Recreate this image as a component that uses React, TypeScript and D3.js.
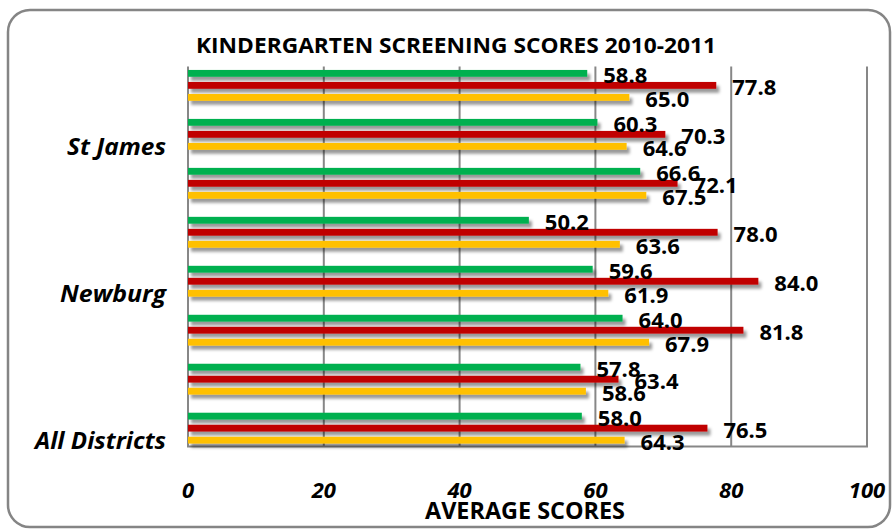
import { useEffect, useRef } from "react";
import * as d3 from "d3";

const W = 894;
const H = 529;

const groups = ["g1", "g2", "g3", "g4", "g5", "g6", "g7", "g8"];
const groupLabels = ["", "St James", "", "", "Newburg", "", "", "All Districts"];
const seriesKeys = ["green", "red", "yellow"];
const seriesColors = ["#00B050", "#C00000", "#FFC000"];
const greenValues = [58.8, 60.3, 66.6, 50.2, 59.6, 64.0, 57.8, 58.0];
const redValues = [77.8, 70.3, 72.1, 78.0, 84.0, 81.8, 63.4, 76.5];
const yellowValues = [65.0, 64.6, 67.5, 63.6, 61.9, 67.9, 58.6, 64.3];
const xTicks = [0, 20, 40, 60, 80, 100];
const labelWidths: Record<string, number> = {
  "St James": 99,
  Newburg: 106,
  "All Districts": 131,
};

const FONT = "'Open Sans', 'Liberation Sans', sans-serif";

export default function App() {
  const svgRef = useRef<SVGSVGElement>(null);

  useEffect(() => {
    if (!svgRef.current) return;
    const svg = d3.select(svgRef.current);
    svg.selectAll("*").remove();

    const plot = { left: 188, right: 867, top: 67, bottom: 446.5 };

    const defs = svg.append("defs");
    defs
      .append("filter")
      .attr("id", "barShadow")
      .attr("x", "-5%")
      .attr("y", "-50%")
      .attr("width", "115%")
      .attr("height", "250%")
      .append("feDropShadow")
      .attr("dx", 3)
      .attr("dy", 4)
      .attr("stdDeviation", 1.6)
      .attr("flood-color", "#000")
      .attr("flood-opacity", 0.4);

    // outer frame
    svg
      .append("rect")
      .attr("x", 8)
      .attr("y", 10)
      .attr("width", 882)
      .attr("height", 517)
      .attr("rx", 22)
      .attr("fill", "#fff")
      .attr("stroke", "#858585")
      .attr("stroke-width", 2.5);

    const x = d3.scaleLinear().domain([0, 100]).range([plot.left, plot.right]);
    const y = d3
      .scaleBand<string>()
      .domain(groups)
      .range([plot.top, plot.bottom])
      .paddingInner(0.37)
      .paddingOuter(0.06);
    const ySub = d3
      .scaleBand<string>()
      .domain(seriesKeys)
      .range([0, y.bandwidth()])
      .paddingInner(0.43)
      .paddingOuter(0);

    // gridlines
    svg
      .append("g")
      .selectAll("line")
      .data(xTicks)
      .enter()
      .append("line")
      .attr("x1", (d) => x(d))
      .attr("x2", (d) => x(d))
      .attr("y1", plot.top - 0.5)
      .attr("y2", plot.bottom)
      .attr("stroke", "#878787")
      .attr("stroke-width", 2);
    svg
      .append("line")
      .attr("x1", plot.left - 1)
      .attr("x2", plot.right + 1)
      .attr("y1", plot.bottom)
      .attr("y2", plot.bottom)
      .attr("stroke", "#878787")
      .attr("stroke-width", 2);

    const seriesValues = [greenValues, redValues, yellowValues];
    const bars = groups.flatMap((g, i) =>
      seriesKeys.map((s, j) => ({
        group: g,
        series: s,
        color: seriesColors[j],
        value: seriesValues[j][i],
      }))
    );

    svg
      .append("g")
      .selectAll("rect")
      .data(bars)
      .enter()
      .append("rect")
      .attr("x", x(0))
      .attr("y", (d) => y(d.group)! + ySub(d.series)!)
      .attr("width", (d) => x(d.value) - x(0))
      .attr("height", ySub.bandwidth())
      .attr("fill", (d) => d.color)
      .style("filter", "url(#barShadow)");

    // value labels
    svg
      .append("g")
      .selectAll("text")
      .data(bars)
      .enter()
      .append("text")
      .attr("x", (d) => x(d.value) + 16)
      .attr("y", (d) => y(d.group)! + ySub(d.series)! + ySub.bandwidth() / 2 + 2)
      .attr("dy", "0.36em")
      .style("font-family", FONT)
      .style("font-weight", 700)
      .style("font-size", "22px")
      .style("fill", "#000")
      .text((d) => d.value.toFixed(1));

    // category labels (aligned with yellow bar)
    svg
      .append("g")
      .selectAll("text")
      .data(groups.map((g, i) => ({ g, label: groupLabels[i] })).filter((d) => d.label))
      .enter()
      .append("text")
      .attr("x", 166)
      .attr("y", (d) => y(d.g)! + ySub("yellow")! + ySub.bandwidth() / 2)
      .attr("dy", "0.36em")
      .attr("text-anchor", "end")
      .attr("textLength", (d) => labelWidths[d.label])
      .attr("lengthAdjust", "spacingAndGlyphs")
      .style("font-family", FONT)
      .style("font-weight", 700)
      .style("font-style", "italic")
      .style("font-size", "24px")
      .text((d) => d.label);

    // x tick labels
    svg
      .append("g")
      .selectAll("text")
      .data(xTicks)
      .enter()
      .append("text")
      .attr("x", (d) => x(d))
      .attr("y", 497.5)
      .attr("text-anchor", "middle")
      .style("font-family", FONT)
      .style("font-weight", 700)
      .style("font-style", "italic")
      .style("font-size", "22px")
      .text((d) => String(d));

    // axis title
    svg
      .append("text")
      .attr("x", 525)
      .attr("y", 519)
      .attr("text-anchor", "middle")
      .attr("textLength", 200)
      .attr("lengthAdjust", "spacingAndGlyphs")
      .style("font-family", FONT)
      .style("font-weight", 700)
      .style("font-size", "24px")
      .text("AVERAGE SCORES");

    // chart title
    svg
      .append("text")
      .attr("x", 456)
      .attr("y", 53.3)
      .attr("text-anchor", "middle")
      .attr("textLength", 520)
      .attr("lengthAdjust", "spacingAndGlyphs")
      .style("font-family", FONT)
      .style("font-weight", 700)
      .style("font-size", "21px")
      .text("KINDERGARTEN SCREENING SCORES 2010-2011");
  }, []);

  return (
    <div style={{ position: "absolute", left: 0, top: 0, width: W, height: H }}>
      <svg ref={svgRef} width={W} height={H} style={{ display: "block" }} />
    </div>
  );
}
